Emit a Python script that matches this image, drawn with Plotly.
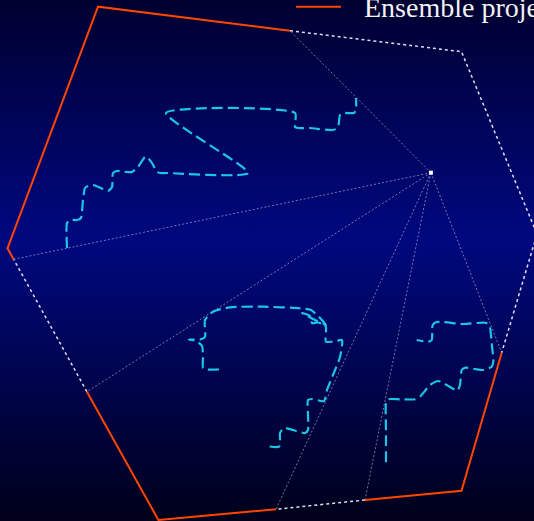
import base64
import plotly.graph_objects as go

# ---- data (plot units: x to the right, y downward) ----
center_x = [430.9]
center_y = [172.7]

# points where the region boundary is split by the spokes
split_x = [290.0, 13.6, 86.9, 276.0, 365.0, 501.7]
split_y = [30.7, 259.3, 391.7, 509.3, 500.0, 352.7]

# outer boundary pieces drawn solid (projection)
solid_x = [13.6, 7.5, 98.0, 290.0, None, 501.7, 461.5, 365.0, None, 276.0, 158.4, 86.9]
solid_y = [259.3, 248.3, 6.7, 30.7, None, 352.7, 490.7, 500.0, None, 509.3, 520.0, 391.7]

# outer boundary pieces drawn dotted
dotted_x = [290.0, 461.5, 537.0, 501.7, None, 365.0, 276.0, None, 86.9, 13.6]
dotted_y = [30.7, 51.7, 234.0, 352.7, None, 500.0, 509.3, None, 391.7, 259.3]

# trajectories
trajA_x = [67, 67, 70, 77, 81, 82, 83, 85, 88, 93, 103, 108, 112, 113, 117, 127, 132, 138, 145, 147,
           152, 157, 160, 167, 248, 166, 295, 295, 298, 310, 333, 338, 340, 343, 354, 356, 356]
trajA_y = [248, 223, 220, 220, 218, 212, 200, 188, 186, 185, 189, 191, 187, 173, 171, 172, 172, 167, 157, 157,
           163, 172, 173, 173, 173, 113, 113, 127, 128, 128, 130, 127, 115, 113, 113, 110, 98]

trajB_x = [219, 207, 203, 203, 202, 196, 189, 200, 205, 205, 213, 230, 263, 300, 311, 319, 326, 318, 312, 310,
           302, 315, 323, 326, 326, 337, 342, 340, 333, 327, 324, 312, 308, 308, 308, 305, 293, 284, 280, 280,
           279, 270, 266]
trajB_y = [369.5, 369.5, 368, 357, 346, 341, 339.5, 339.5, 337, 320, 311.7, 307.3, 306.7, 308.3, 310, 317, 325,
           322.5, 323, 316, 313, 320, 323, 327, 341.7, 340.7, 340, 357, 375, 390, 401, 399, 400, 415, 430, 433,
           430, 428, 433, 440, 446.7, 446.5, 445]

trajC_x = [386, 386, 386, 388.3, 400, 415, 420, 430, 438.3, 446.7, 457.3, 460, 461.7, 465, 475, 483.3, 491.7,
           493.3, 491.7, 489.3, 485, 463.3, 436.7, 432.7, 431.7, 428.3, 416.7]
trajC_y = [462.3, 430, 403.3, 399.3, 399.3, 399.3, 396.7, 385, 381, 385, 390.7, 385, 370, 367.7, 369, 370, 366.7,
           361.7, 343.3, 325, 322.7, 324, 322, 325, 340, 341.7, 340]

legend_label = "Ensemble projection"

# ---- styles ----
ORANGE = "#ff4500"
CYAN = "#1cc4e8"

fig = go.Figure()

# spokes from the centre to the split points
spoke_x, spoke_y = [], []
for sx, sy in zip(split_x, split_y):
    spoke_x += [center_x[0], sx, None]
    spoke_y += [center_y[0], sy, None]
fig.add_trace(go.Scatter(x=spoke_x, y=spoke_y, mode="lines", showlegend=False, hoverinfo="skip",
                         line=dict(color="rgba(190,190,225,0.6)", width=1, dash="2px,2px")))

fig.add_trace(go.Scatter(x=dotted_x, y=dotted_y, mode="lines", showlegend=False, hoverinfo="skip",
                         line=dict(color="rgba(235,235,245,0.95)", width=1.5, dash="3px,3px")))

fig.add_trace(go.Scatter(x=solid_x, y=solid_y, mode="lines", name=legend_label, showlegend=False,
                         line=dict(color=ORANGE, width=2)))

for tx, ty in [(trajA_x, trajA_y), (trajB_x, trajB_y), (trajC_x, trajC_y)]:
    fig.add_trace(go.Scatter(x=tx, y=ty, mode="lines", showlegend=False,
                             line=dict(color=CYAN, width=2.2, dash="11px,5px", shape="spline", smoothing=0.6)))

fig.add_trace(go.Scatter(x=center_x, y=center_y, mode="markers", showlegend=False,
                         marker=dict(color="white", size=4, symbol="square")))

# gradient background as an inline SVG image
svg = ('<svg xmlns="http://www.w3.org/2000/svg" width="534" height="521" preserveAspectRatio="none">'
       '<defs><linearGradient id="g" x1="0" y1="0" x2="0" y2="1">'
       '<stop offset="0" stop-color="#000030"/>'
       '<stop offset="0.46" stop-color="#00087f"/>'
       '<stop offset="1" stop-color="#00001a"/>'
       '</linearGradient></defs>'
       '<rect x="0" y="0" width="534" height="521" fill="url(#g)"/></svg>')
src = "data:image/svg+xml;base64," + base64.b64encode(svg.encode()).decode()

W, H = 534, 521
fig.update_layout(
    width=W, height=H,
    margin=dict(l=0, r=0, t=0, b=0),
    paper_bgcolor="#000040",
    plot_bgcolor="rgba(0,0,0,0)",
    images=[dict(source=src, xref="paper", yref="paper", x=0, y=1, sizex=1, sizey=1,
                 xanchor="left", yanchor="top", sizing="stretch", layer="below")],
    xaxis=dict(range=[0, W], visible=False, showgrid=False, zeroline=False),
    yaxis=dict(range=[H, 0], visible=False, showgrid=False, zeroline=False),
    showlegend=False,
    shapes=[dict(type="line", xref="paper", yref="paper",
                 x0=296 / W, x1=341 / W, y0=1 - 6.7 / H, y1=1 - 6.7 / H,
                 line=dict(color=ORANGE, width=2))],
    annotations=[dict(text=legend_label, xref="paper", yref="paper", x=362 / W, y=1 - 7.5 / H,
                      xanchor="left", yanchor="middle", showarrow=False,
                      font=dict(family="Liberation Serif, Times New Roman, serif", size=28, color="#f2f2f2"))],
)

fig.write_html("out.html", config={"displayModeBar": False},
               post_script="document.body.style.margin='0';document.body.style.overflow='hidden';"
                           "document.documentElement.style.overflow='hidden';")
